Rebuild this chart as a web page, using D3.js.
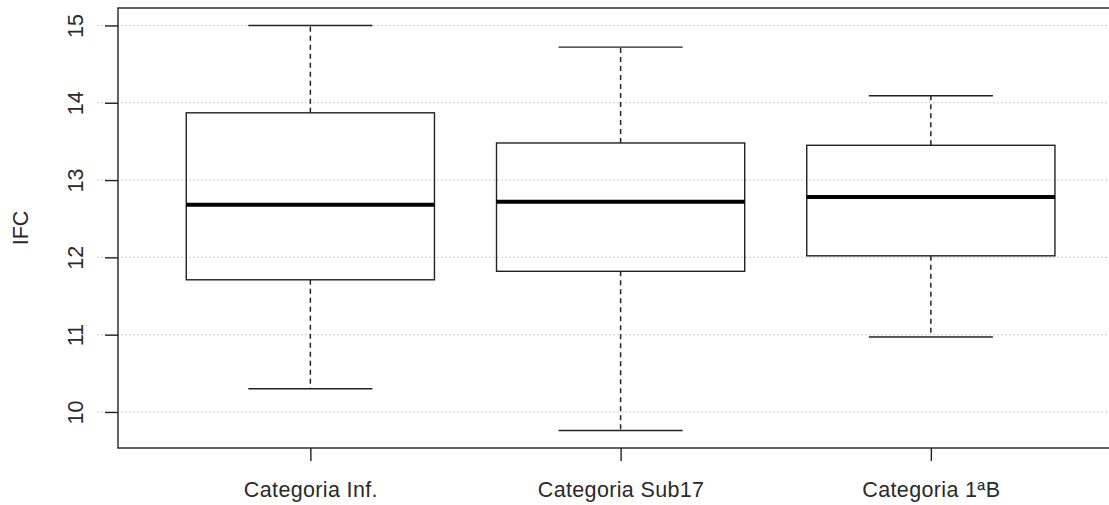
<!DOCTYPE html>
<html>
<head>
<meta charset="utf-8">
<script src="https://cdn.jsdelivr.net/npm/d3@7"></script>
<style>
  html, body { margin: 0; padding: 0; background: #fff; }
  svg { display: block; }
  text { font-family: "Liberation Sans", Arial, sans-serif; fill: #2a2a2a; }
</style>
</head>
<body>
<svg id="chart" width="1109" height="505"></svg>
<script>
// ---- data ----
const categories = ["Categoria Inf.", "Categoria Sub17", "Categoria 1ªB"];
const lowerWhisker = [10.30, 9.76, 10.97];
const q1 = [11.71, 11.82, 12.02];
const median = [12.68, 12.72, 12.78];
const q3 = [13.87, 13.48, 13.45];
const upperWhisker = [15.00, 14.72, 14.09];
const yTicks = [10, 11, 12, 13, 14, 15];
const yLabel = "IFC";

(function () {
const svg = d3.select("#chart");
const W = 1109, H = 505;
const pLeft = 118, pTop = 8, pBottom = 448;

const x = d3.scaleLinear().domain([0.38, 3.62]).range([pLeft, pLeft + 3.24 * 310.25]);
const y = d3.scaleLinear().domain([9.534, 15.226]).range([pBottom, pTop]);
const pRight = x(3.62);

const ink = "#222";
const txt = "#2a2a2a";
const fs = "21.5px";

// grid lines
svg.append("g").selectAll("line").data(yTicks).join("line")
  .attr("x1", 97).attr("x2", W + 20)
  .attr("y1", d => y(d)).attr("y2", d => y(d))
  .attr("stroke", "#cdcdcd").attr("stroke-width", 1)
  .attr("stroke-dasharray", "2,2");

const data = categories.map((c, i) => ({
  c, i: i + 1, lo: lowerWhisker[i], q1: q1[i], med: median[i], q3: q3[i], hi: upperWhisker[i]
}));

const boxHalf = 0.4, capHalf = 0.2;
const g = svg.append("g");
const b = g.selectAll("g.box").data(data).join("g").attr("class", "box");

// whiskers (dashed)
b.append("line")
  .attr("x1", d => x(d.i)).attr("x2", d => x(d.i))
  .attr("y1", d => y(d.q3)).attr("y2", d => y(d.hi))
  .attr("stroke", ink).attr("stroke-width", 1.5).attr("stroke-dasharray", "5,4");
b.append("line")
  .attr("x1", d => x(d.i)).attr("x2", d => x(d.i))
  .attr("y1", d => y(d.q1)).attr("y2", d => y(d.lo))
  .attr("stroke", ink).attr("stroke-width", 1.5).attr("stroke-dasharray", "5,4");
// caps
b.append("line")
  .attr("x1", d => x(d.i - capHalf)).attr("x2", d => x(d.i + capHalf))
  .attr("y1", d => y(d.hi)).attr("y2", d => y(d.hi))
  .attr("stroke", ink).attr("stroke-width", 1.4);
b.append("line")
  .attr("x1", d => x(d.i - capHalf)).attr("x2", d => x(d.i + capHalf))
  .attr("y1", d => y(d.lo)).attr("y2", d => y(d.lo))
  .attr("stroke", ink).attr("stroke-width", 1.4);
// box
b.append("rect")
  .attr("x", d => x(d.i - boxHalf)).attr("width", d => x(d.i + boxHalf) - x(d.i - boxHalf))
  .attr("y", d => y(d.q3)).attr("height", d => y(d.q1) - y(d.q3))
  .attr("fill", "none").attr("stroke", ink).attr("stroke-width", 1.4);
// median
b.append("line")
  .attr("x1", d => x(d.i - boxHalf)).attr("x2", d => x(d.i + boxHalf))
  .attr("y1", d => y(d.med)).attr("y2", d => y(d.med))
  .attr("stroke", "#000").attr("stroke-width", 4);

// frame
svg.append("rect")
  .attr("x", pLeft).attr("y", pTop)
  .attr("width", pRight - pLeft).attr("height", pBottom - pTop)
  .attr("fill", "none").attr("stroke", ink).attr("stroke-width", 1.4);

// y axis
const yAxis = d3.axisLeft(y).tickValues(yTicks).tickSize(13).tickPadding(0).tickFormat(d3.format("d"));
const ya = svg.append("g").attr("transform", `translate(${pLeft},0)`).call(yAxis);
ya.select(".domain").remove();
ya.selectAll(".tick line").attr("stroke", ink).attr("stroke-width", 1.4);
ya.selectAll(".tick text")
  .attr("x", 0).attr("y", 0).attr("dy", null)
  .attr("text-anchor", "middle")
  .attr("transform", "translate(-35,0) rotate(-90)")
  .style("font-size", fs)
  .style("font-family", "'Liberation Sans', Arial, sans-serif")
  .attr("fill", txt);

// x axis
const xAxis = d3.axisBottom(x).tickValues([1, 2, 3]).tickSize(13).tickPadding(0)
  .tickFormat(d => categories[d - 1]);
const xa = svg.append("g").attr("transform", `translate(0,${pBottom})`).call(xAxis);
xa.select(".domain").remove();
xa.selectAll(".tick line").attr("stroke", ink).attr("stroke-width", 1.4);
xa.selectAll(".tick text")
  .attr("y", 49).attr("dy", null)
  .style("font-size", fs)
  .style("letter-spacing", "0.35px")
  .style("font-family", "'Liberation Sans', Arial, sans-serif")
  .attr("fill", txt);

// y label
svg.append("text")
  .attr("transform", `translate(28,${(pTop + pBottom) / 2}) rotate(-90)`)
  .attr("text-anchor", "middle")
  .style("font-size", fs)
  .attr("fill", txt)
  .text(yLabel);
})();
</script>
</body>
</html>
